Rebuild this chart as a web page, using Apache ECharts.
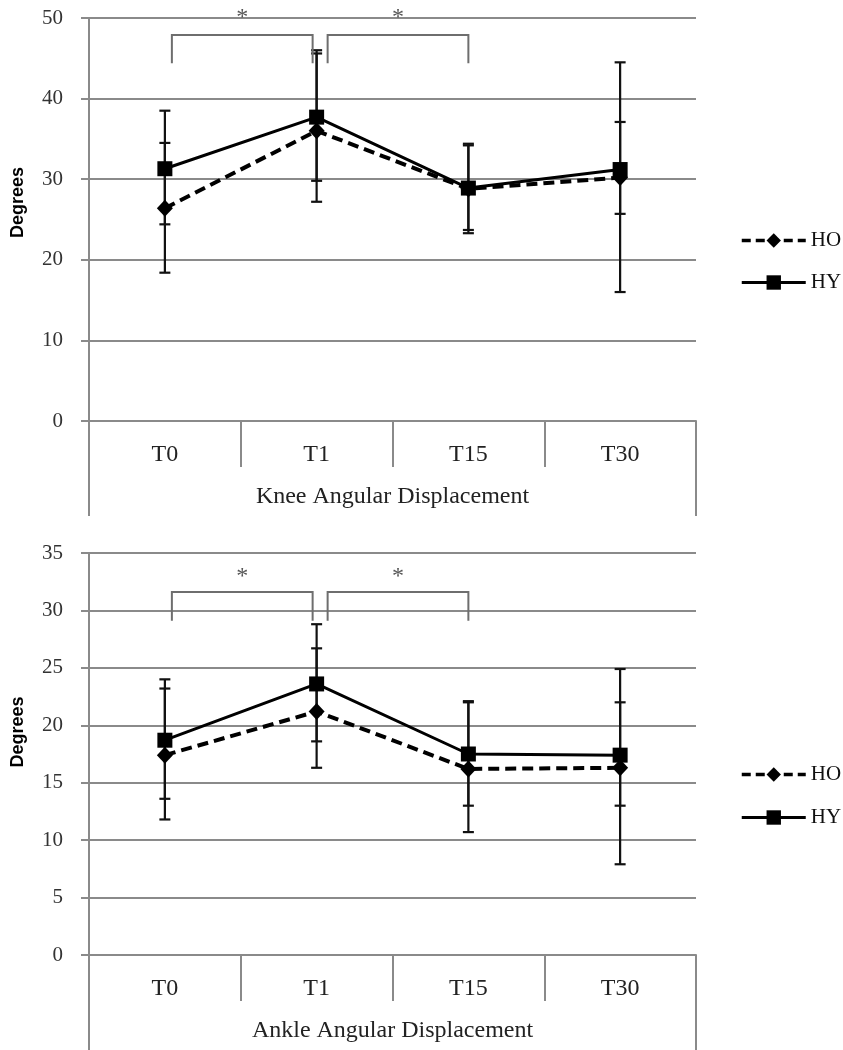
<!DOCTYPE html>
<html>
<head>
<meta charset="utf-8">
<script src="https://cdn.jsdelivr.net/npm/echarts@6/dist/echarts.min.js"></script>
<style>html,body{margin:0;padding:0;background:#fff}#chart{width:843px;height:1050px}</style>
</head>
<body>
<div id="chart"></div>
<script>
// ---- data ----
const categories = ['T0', 'T1', 'T15', 'T30'];
const seriesNames = ['HO', 'HY'];
const groupLabels = ['Knee Angular Displacement', 'Ankle Angular Displacement'];

const kneeHO = [26.4, 36.0, 28.8, 30.2];
const kneeHOHigh = [34.5, 46.0, 34.4, 44.5];
const kneeHOLow = [18.4, 27.2, 23.3, 16.0];
const kneeHY = [31.3, 37.7, 28.9, 31.2];
const kneeHYHigh = [38.5, 45.6, 34.2, 37.1];
const kneeHYLow = [24.4, 29.8, 23.7, 25.7];

const ankleHO = [17.4, 21.2, 16.2, 16.3];
const ankleHOHigh = [23.2, 26.7, 22.0, 24.9];
const ankleHOLow = [11.8, 16.3, 10.7, 7.9];
const ankleHY = [18.7, 23.6, 17.5, 17.4];
const ankleHYHigh = [24.0, 28.8, 22.1, 22.0];
const ankleHYLow = [13.6, 18.6, 13.0, 13.0];

// significance brackets: [fromIndex, toIndex, bracketTop, legBottom, starLevel]
const kneeBrackets = [[0, 1, 47.9, 44.4, 50.5], [1, 2, 47.9, 44.4, 50.5]];
const ankleBrackets = [[0, 1, 31.6, 29.1, 33.3], [1, 2, 31.6, 29.1, 33.3]];

const kneeTicks = {min: 0, max: 50, interval: 10};
const ankleTicks = {min: 0, max: 35, interval: 5};

// ---- styling helpers ----
const GRAY = '#8a8a8a';
const SERIF = 'Liberation Serif';
const bracketOffsets = [[7, -4], [11, 0]];

function errData(lo, hi) { return lo.map((l, i) => [i, l, hi[i]]); }

function errorSeries(idx, lo, hi) {
  return {
    type: 'custom', xAxisIndex: idx * 2, yAxisIndex: idx, z: 2,
    data: errData(lo, hi), encode: {x: 0, y: [1, 2]}, silent: true,
    renderItem: function (params, api) {
      const x = api.value(0);
      const top = api.coord([x, api.value(2)]);
      const bot = api.coord([x, api.value(1)]);
      const s = {stroke: '#111', lineWidth: 2.2};
      const w = 5.5;
      return {type: 'group', children: [
        {type: 'line', shape: {x1: top[0], y1: top[1], x2: bot[0], y2: bot[1]}, style: s},
        {type: 'line', shape: {x1: top[0] - w, y1: top[1], x2: top[0] + w, y2: top[1]}, style: s},
        {type: 'line', shape: {x1: bot[0] - w, y1: bot[1], x2: bot[0] + w, y2: bot[1]}, style: s}
      ]};
    }
  };
}

function bracketSeries(idx, data) {
  return {
    type: 'custom', xAxisIndex: idx * 2, yAxisIndex: idx, z: 3, clip: false, silent: true,
    data: data, encode: {x: [0, 1], y: [2, 3]},
    renderItem: function (params, api) {
      const off = bracketOffsets[params.dataIndex];
      const a = api.coord([api.value(0), api.value(2)]);
      const b = api.coord([api.value(1), api.value(2)]);
      const legY = api.coord([api.value(0), api.value(3)])[1];
      const starY = api.coord([api.value(0), api.value(4)])[1];
      const x1 = a[0] + off[0], x2 = b[0] + off[1];
      const s = {stroke: '#6e6e6e', lineWidth: 2, fill: 'none'};
      return {type: 'group', children: [
        {type: 'polyline', shape: {points: [[x1, legY], [x1, a[1]], [x2, a[1]], [x2, legY]]}, style: s},
        {type: 'text', style: {text: '*', x: (x1 + x2) / 2, y: starY + 4, align: 'center', verticalAlign: 'middle',
          font: '24px "Liberation Serif"', fill: '#555'}}
      ]};
    }
  };
}

function lineSeries(idx, name, values) {
  const isHO = name === 'HO';
  return {
    name: name, type: 'line', xAxisIndex: idx * 2, yAxisIndex: idx, z: 4,
    data: values,
    symbol: isHO ? 'diamond' : 'rect',
    symbolSize: isHO ? [16, 17] : [15, 15],
    itemStyle: {color: '#000'},
    lineStyle: {color: '#000', width: isHO ? 4 : 3, type: isHO ? [11, 6] : 'solid'},
    emphasis: {disabled: true},
    animation: false
  };
}

const grids = [
  {left: 89, top: 18, width: 607, height: 403, outerBoundsMode: 'none', containLabel: false},
  {left: 89, top: 553, width: 607, height: 402, outerBoundsMode: 'none', containLabel: false}
];

function xAxes(idx) {
  return [
    {type: 'category', gridIndex: idx, data: categories, boundaryGap: true, position: 'bottom',
      axisLine: {lineStyle: {color: GRAY, width: 2}},
      axisTick: {show: true, interval: 0, length: 46, lineStyle: {color: GRAY, width: 2}},
      axisLabel: {fontFamily: SERIF, fontSize: 24, color: '#222', margin: 22}},
    {type: 'category', gridIndex: idx, data: [groupLabels[idx]], boundaryGap: true, position: 'bottom',
      axisLine: {show: false},
      axisTick: {show: true, length: 95, lineStyle: {color: GRAY, width: 2}},
      axisLabel: {fontFamily: SERIF, fontSize: 24, color: '#222', margin: 64}}
  ];
}

function yAxis(idx, t, namePad) {
  return {
    type: 'value', gridIndex: idx, min: t.min, max: t.max, interval: t.interval,
    name: 'Degrees', nameLocation: 'middle', nameRotate: 90, nameGap: 62,
    nameTextStyle: {fontFamily: 'Liberation Sans', fontWeight: 'bold', fontSize: 18, color: '#000', padding: [0, 0, 0, namePad]},
    axisLine: {show: true, lineStyle: {color: GRAY, width: 2}},
    axisTick: {show: true, length: 8, lineStyle: {color: GRAY, width: 2}},
    splitLine: {lineStyle: {color: GRAY, width: 2}},
    axisLabel: {fontFamily: SERIF, fontSize: 21, color: '#333', margin: 26}
  };
}

function legend(top, gap) {
  return {
    orient: 'vertical', left: 735, top: top, itemWidth: 64, itemHeight: 18, itemGap: gap,
    data: [
      {name: 'HO', lineStyle: {width: 3.5, type: [9, 5]}},
      {name: 'HY', lineStyle: {width: 3}}
    ],
    selectedMode: false,
    textStyle: {fontFamily: SERIF, fontSize: 21, color: '#111'}
  };
}

const option = {
  animation: false,
  backgroundColor: '#fff',
  grid: grids,
  xAxis: xAxes(0).concat(xAxes(1)),
  yAxis: [yAxis(0, kneeTicks, 34), yAxis(1, ankleTicks, 44)],
  legend: [legend(225, 21), legend(759, 22)],
  series: [
    errorSeries(0, kneeHOLow, kneeHOHigh),
    errorSeries(0, kneeHYLow, kneeHYHigh),
    bracketSeries(0, kneeBrackets),
    lineSeries(0, 'HO', kneeHO),
    lineSeries(0, 'HY', kneeHY),
    errorSeries(1, ankleHOLow, ankleHOHigh),
    errorSeries(1, ankleHYLow, ankleHYHigh),
    bracketSeries(1, ankleBrackets),
    lineSeries(1, 'HO', ankleHO),
    lineSeries(1, 'HY', ankleHY)
  ]
};

const chart = echarts.init(document.getElementById('chart'), null, {renderer: 'canvas'});
chart.setOption(option);
</script>
</body>
</html>
